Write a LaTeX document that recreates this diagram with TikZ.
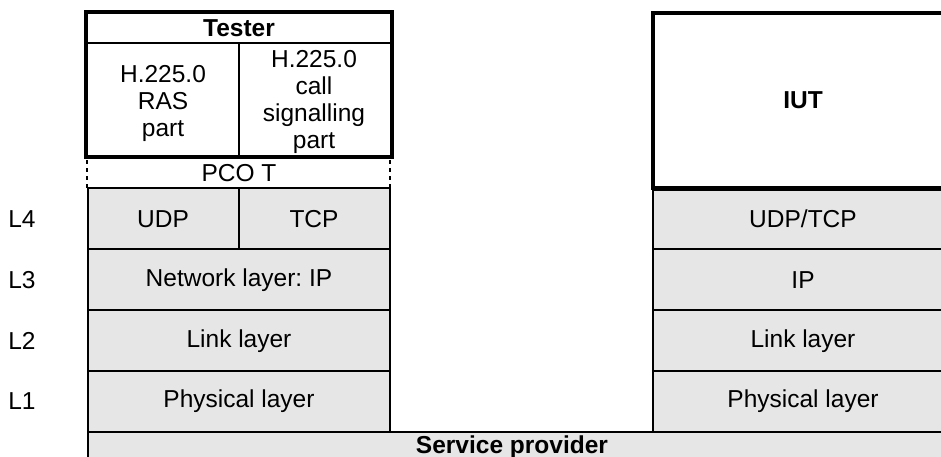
\documentclass[tikz,border=0pt]{standalone}
\usepackage{fontspec}
\setmainfont{Liberation Sans}
\frenchspacing
\definecolor{layergray}{HTML}{E6E6E6}
\begin{document}
\begin{tikzpicture}[x=1pt,y=-1pt,
  layer/.style={fill=layergray,draw=black,line width=1.4pt},
  heavy/.style={draw=black,line width=3.4pt},
  lbl/.style={font=\fontsize{24.5}{27}\selectfont,align=center,inner sep=0pt},
  blbl/.style={lbl,font=\fontsize{24.5}{27}\selectfont\bfseries}]
\useasboundingbox (0,0) rectangle (941,456);
\clip (0,0) rectangle (941,456);
% Tester stack
\draw[layer] (88,188) rectangle (239,249);
\draw[layer] (239,188) rectangle (390,249);
\draw[layer] (88,249) rectangle (390,310);
\draw[layer] (88,310) rectangle (390,371);
\draw[layer] (88,371) rectangle (390,432);
% IUT stack
\draw[layer] (653,190) rectangle (960,249);
\draw[layer] (653,249) rectangle (960,310);
\draw[layer] (653,310) rectangle (960,371);
\draw[layer] (653,371) rectangle (960,432);
% service provider
\draw[layer] (88,432) rectangle (960,470);
% Tester box
\draw[heavy] (86,12) rectangle (392,157);
\draw[line width=1.6pt] (86,43) -- (392,43);
\draw[line width=1.8pt] (239,43) -- (239,157);
% PCO dotted edges
\draw[line width=2.6pt,dash pattern=on 4pt off 4pt] (87,160) -- (87,188);
\draw[line width=2.6pt,dash pattern=on 4pt off 4pt] (390,160) -- (390,188);
% IUT box
\draw[heavy] (653,13) rectangle (970,188);
% texts
\node[blbl] (tester) at (239,28) {Tester};
\node[lbl] (ras) at (163,103) {H.225.0\\RAS\\part};
\node[lbl] (cs) at (314,102) {H.225.0\\call\\signalling\\part};
\node[lbl] (pco) at (239,173) {PCO T};
\node[blbl] (iut) at (803,100) {IUT};
\node[lbl] (udp) at (163,219) {UDP};
\node[lbl] (tcp) at (314,219) {TCP};
\node[lbl] (ip) at (239,280) {Network layer: IP};
\node[lbl] (ll) at (239,341) {Link layer};
\node[lbl] (pl) at (239,401) {Physical layer};
\node[lbl] (udptcp) at (803,219) {UDP/TCP};
\node[lbl] (ip2) at (803,280) {IP};
\node[lbl] (ll2) at (803,341) {Link layer};
\node[lbl] (pl2) at (803,401) {Physical layer};
\node[lbl] (l4) at (22,219) {L4};
\node[lbl] (l3) at (22,280) {L3};
\node[lbl] (l2) at (22,341) {L2};
\node[lbl] (l1) at (22,401) {L1};
\node[blbl,anchor=base] (sp) at (512,453) {Service provider};
\end{tikzpicture}
\end{document}
